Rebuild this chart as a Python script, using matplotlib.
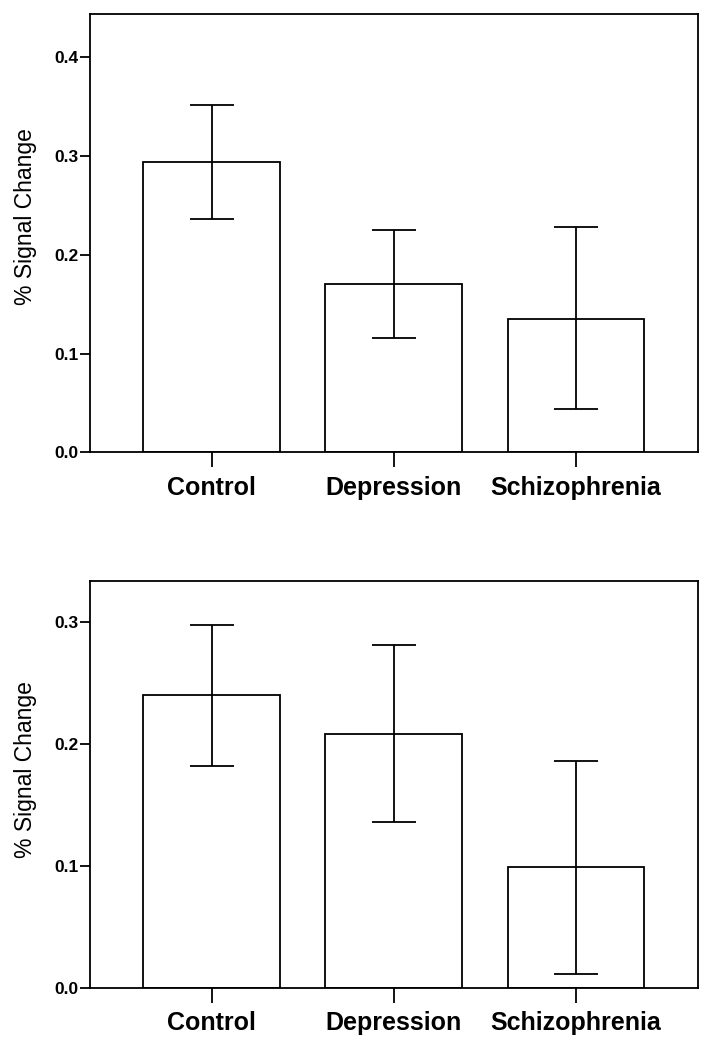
import matplotlib
matplotlib.use("Agg")
import matplotlib.pyplot as plt
import numpy as np

plt.rcParams["font.family"] = ["Liberation Sans", "DejaVu Sans"]

groups = ["Control", "Depression", "Schizophrenia"]

# panel 1
top_means = [0.294, 0.170, 0.135]
top_upper = [0.352, 0.225, 0.228]
top_lower = [0.236, 0.116, 0.044]

# panel 2
bot_means = [0.240, 0.208, 0.099]
bot_upper = [0.297, 0.281, 0.186]
bot_lower = [0.182, 0.136, 0.011]

top_ticks = [0.0, 0.1, 0.2, 0.3, 0.4]
bot_ticks = [0.0, 0.1, 0.2, 0.3]

fig = plt.figure(figsize=(7.13, 10.49), dpi=100)
ax1 = fig.add_axes([0.1262, 0.5688, 0.8523, 0.4179])
ax2 = fig.add_axes([0.1262, 0.0584, 0.8523, 0.3880])


def draw(ax, means, upper, lower, ticks, ymax, label_y):
    x = np.arange(len(groups))
    means = np.array(means)
    err = [means - np.array(lower), np.array(upper) - means]
    ax.bar(x, means, width=0.75, color="white", edgecolor="black", linewidth=1.3, zorder=2)
    ax.errorbar(x, means, yerr=err, fmt="none", ecolor="black", elinewidth=1.3,
                capsize=16, capthick=1.3, zorder=3)
    ax.set_xlim(-0.667, 2.667)
    ax.set_ylim(0, ymax)
    ax.set_xticks(x)
    ax.set_xticklabels(groups, fontsize=18, fontweight="bold")
    ax.set_yticks(ticks)
    ax.set_yticklabels([f"{t:.1f}" for t in ticks], fontsize=12.5, fontweight="bold")
    ax.tick_params(axis="x", length=11, width=1.3, pad=6)
    ax.tick_params(axis="y", length=7, width=1.3, pad=1.5)
    for s in ax.spines.values():
        s.set_linewidth(1.3)
    ax.set_ylabel("% Signal Change", fontsize=16.5)
    ax.yaxis.set_label_coords(-0.088, label_y)


draw(ax1, top_means, top_upper, top_lower, top_ticks, 0.444, 0.538)
draw(ax2, bot_means, bot_upper, bot_lower, bot_ticks, 0.3336, 0.535)

fig.savefig("out.png", dpi=100)
